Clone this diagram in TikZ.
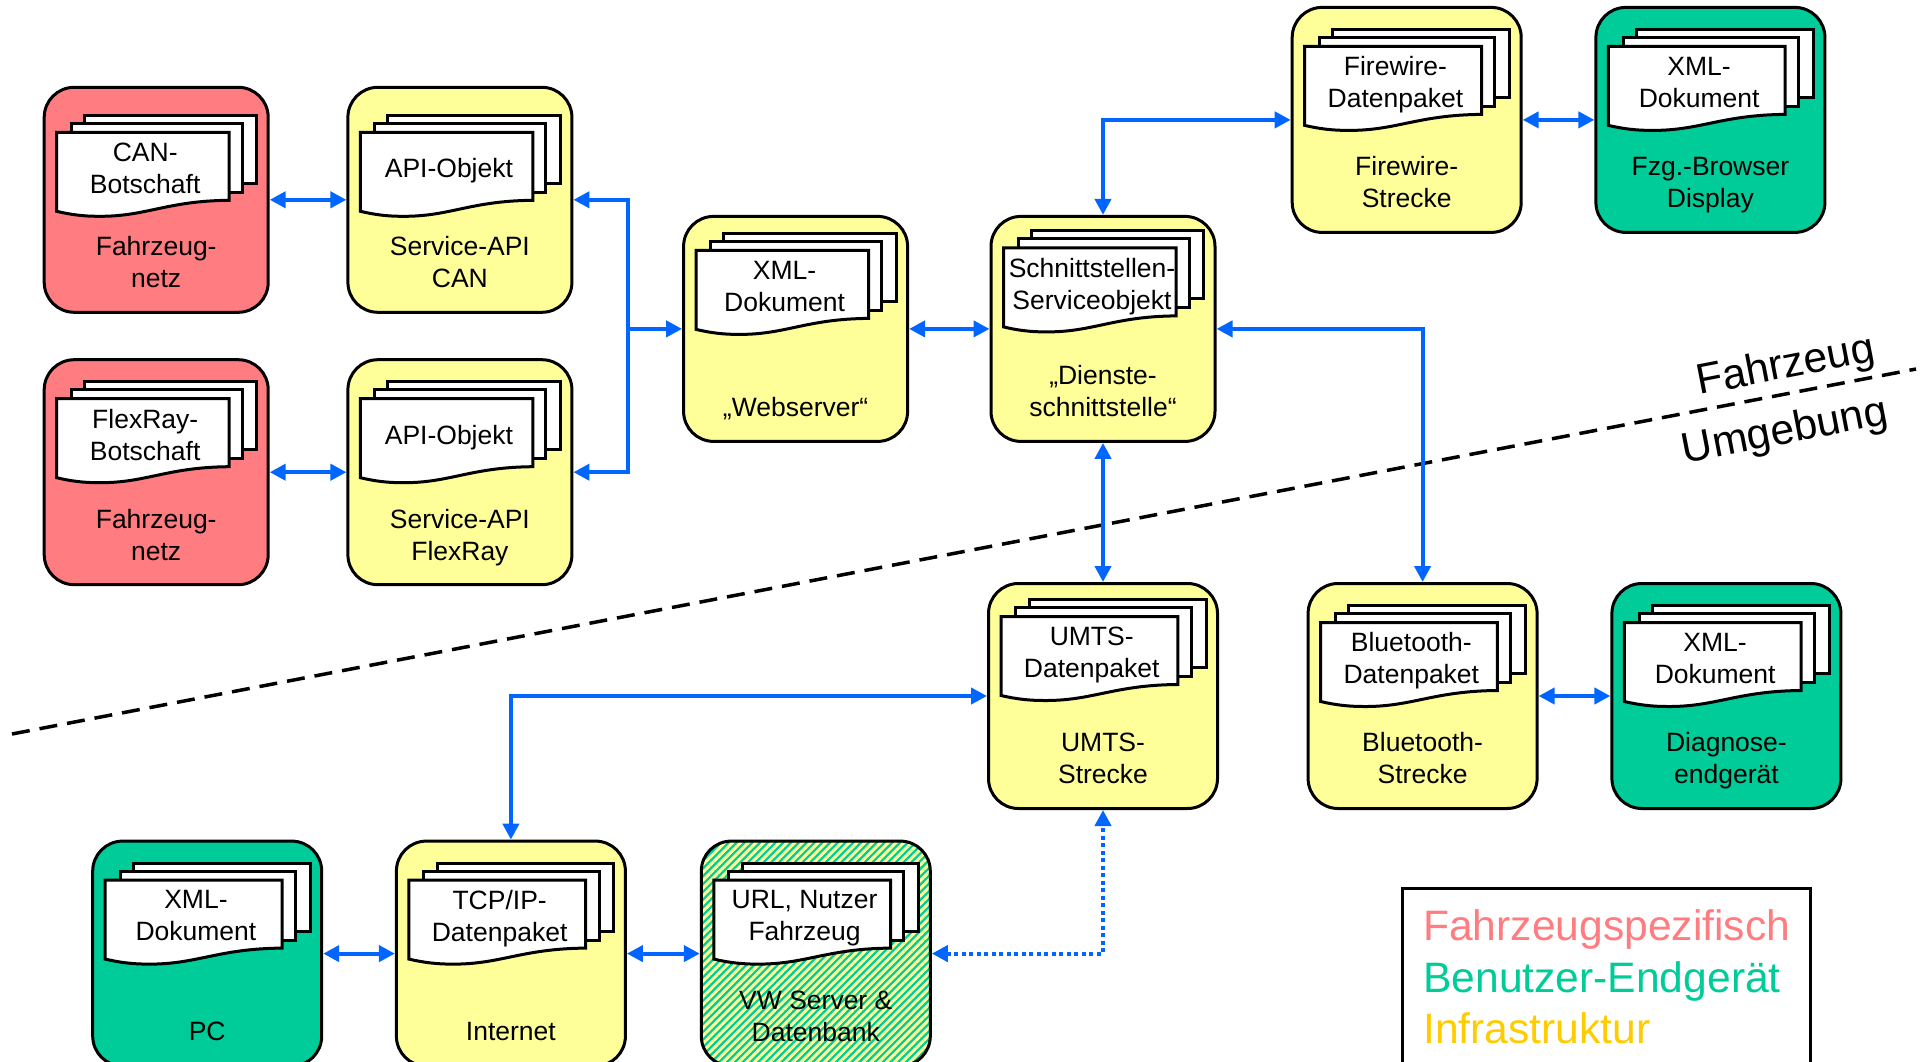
\documentclass[tikz,border=0pt]{standalone}
\usepackage{fontspec}
\setmainfont{Liberation Sans}
\usepackage{tikz}
\usepackage{xcolor}
\usetikzlibrary{arrows.meta, patterns.meta}

\definecolor{netzred}{HTML}{FF7C80}
\definecolor{dienstyellow}{HTML}{FFFF99}
\definecolor{endgreen}{HTML}{00CC99}
\definecolor{infraorange}{HTML}{FFCC00}
\definecolor{linkblue}{HTML}{0066FF}

\tikzset{
    boxbase/.style={draw, line width=3pt, rounded corners=30pt, minimum width=224pt, minimum height=225pt, inner sep=0pt},
    widebox/.style={minimum width=229pt},
    netz/.style={boxbase, fill=netzred},
    dienst/.style={boxbase, fill=dienstyellow},
    ende/.style={boxbase, fill=endgreen},
    hatched/.style={boxbase, preaction={fill=endgreen}, pattern={Lines[angle=45,distance=5.5pt,line width=3pt]}, pattern color=dienstyellow},
    sheet/.style={draw, line width=3pt, fill=white},
    doctext/.style={font=\fontsize{26.5}{32}\selectfont, align=center, inner sep=0pt},
    boxtext/.style={font=\fontsize{26.5}{32}\selectfont, align=center, inner sep=0pt},
    bigtext/.style={font=\fontsize{42.6}{50}\selectfont, inner sep=0pt},
    link/.style={line width=4pt, color=linkblue, <->, >={Triangle[length=16pt,width=16pt]}},
    linkdot/.style={link, dash pattern=on 4pt off 3.5pt},
}

% name, x, y, style, shift of the papers, width of the papers, paper text, box text
\newcommand{\databox}[8]{
    \node[#4] (#1) at (#2, #3) {};
    \begin{scope}[shift={(#2, #3 + #5)}, xscale=#6]
        \draw[sheet] (-72, -84.5) rectangle (100.5, -16.5);
        \draw[sheet] (-85, -76.5) rectangle (86, -7.5);
        \draw[sheet] (-99.5, -67.5) -- (73, -67.5) -- (73, 0.5)
            .. controls (10, 1) and (-10, 17) .. (-58, 16.5)
            .. controls (-72, 16.5) and (-85, 15) .. (-99.5, 11.5) -- cycle;
        \node[doctext] (#1doc) at (-11, -29) {\vphantom{Ap}#7\vphantom{Ap}};
    \end{scope}
    \node[boxtext] (#1lab) at (#2, #3 + 65) {\vphantom{Ap}#8\vphantom{Ap}};
}

\begin{document}
\begin{tikzpicture}[x=1pt, y=-1pt]
    \useasboundingbox (0, 0) rectangle (1928, 1062);

    \coordinate (grenzeA) at (12, 734);
    \coordinate (grenzeB) at (1916, 369);
    \draw[line width=3.5pt, dash pattern=on 18pt off 10pt] (grenzeA) -- (grenzeB);

    \databox{netzA}{156.2}{199.8}{netz}{0}{1}{CAN-\\Botschaft}{Fahrzeug-\\netz}
    \databox{apiA}{459.9}{199.8}{dienst}{0}{1}{API-Objekt}{Service-API\\CAN}
    \databox{netzB}{156.2}{472.2}{netz}{-6}{1}{FlexRay-\\Botschaft}{Fahrzeug-\\netz}
    \databox{apiB}{459.9}{472.2}{dienst}{-6}{1}{API-Objekt}{Service-API\\FlexRay}
    \databox{web}{795.6}{328.9}{dienst}{-11}{1}{XML-\\Dokument}{\mbox{}\\„Webserver“}
    \databox{dienste}{1103}{328.9}{dienst}{-13.5}{1}{Schnittstellen-\\Serviceobjekt}{„Dienste-\\schnittstelle“}
    \databox{fire}{1406.7}{119.9}{dienst, widebox}{-6}{1.025}{Firewire-\\Datenpaket}{Firewire-\\Strecke}
    \databox{browser}{1710.4}{119.9}{ende, widebox}{-6}{1.025}{XML-\\Dokument}{Fzg.-Browser\\Display}
    \databox{umts}{1103}{696}{dienst, widebox}{-12}{1.025}{UMTS-\\Datenpaket}{UMTS-\\Strecke}
    \databox{blue}{1422.6}{696}{dienst, widebox}{-6}{1.025}{Bluetooth-\\Datenpaket}{Bluetooth-\\Strecke}
    \databox{diag}{1726.4}{696}{ende, widebox}{-6}{1.025}{XML-\\Dokument}{Diagnose-\\endgerät}
    \databox{pc}{207.2}{953.6}{ende, widebox}{-6}{1.025}{XML-\\Dokument}{\mbox{}\\PC}
    \databox{inet}{510.9}{953.6}{dienst, widebox}{-6}{1.025}{TCP/IP-\\Datenpaket}{\mbox{}\\Internet}
    \databox{vw}{815.8}{953.6}{hatched, widebox}{-6}{1.025}{URL, Nutzer\\Fahrzeug}{VW Server \&\\Datenbank}

    \coordinate (bus) at (628.3, 328.9);

    \draw[link] (netzA) -- (apiA);
    \draw[link] (netzB) -- (apiB);
    \draw[link] (apiA.east) -| (apiB.east -| bus) -- (apiB.east);
    \draw[link, <-] (web.west) -- (bus);
    \draw[link] (web) -- (dienste);
    \draw[link] (dienste.north) |- (fire.west);
    \draw[link] (fire) -- (browser);
    \draw[link] (dienste.east) -| (blue.north);
    \draw[link] (dienste.south) -- (umts.north);
    \draw[link] (blue) -- (diag);
    \draw[link] (umts.west) -| (inet.north);
    \draw[link] (pc) -- (inet);
    \draw[link] (inet) -- (vw);
    \draw[linkdot] (vw.east) -| (umts.south);

    \node[bigtext, rotate=11] (fahrzeug) at (1786, 367) {Fahrzeug};
    \node[bigtext, rotate=11] (umgebung) at (1785, 432.6) {Umgebung};

    \node[draw, line width=3pt, anchor=north west, minimum width=408pt, minimum height=200pt] (legend) at (1400.5, 886.5) {};
    \node[bigtext, anchor=base west, text=netzred] (legendA) at (1423, 940) {Fahrzeugspezifisch};
    \node[bigtext, anchor=base west, text=endgreen] (legendB) at (1423, 992) {Benutzer-Endgerät};
    \node[bigtext, anchor=base west, text=infraorange] (legendC) at (1423, 1043) {Infrastruktur};
\end{tikzpicture}
\end{document}
